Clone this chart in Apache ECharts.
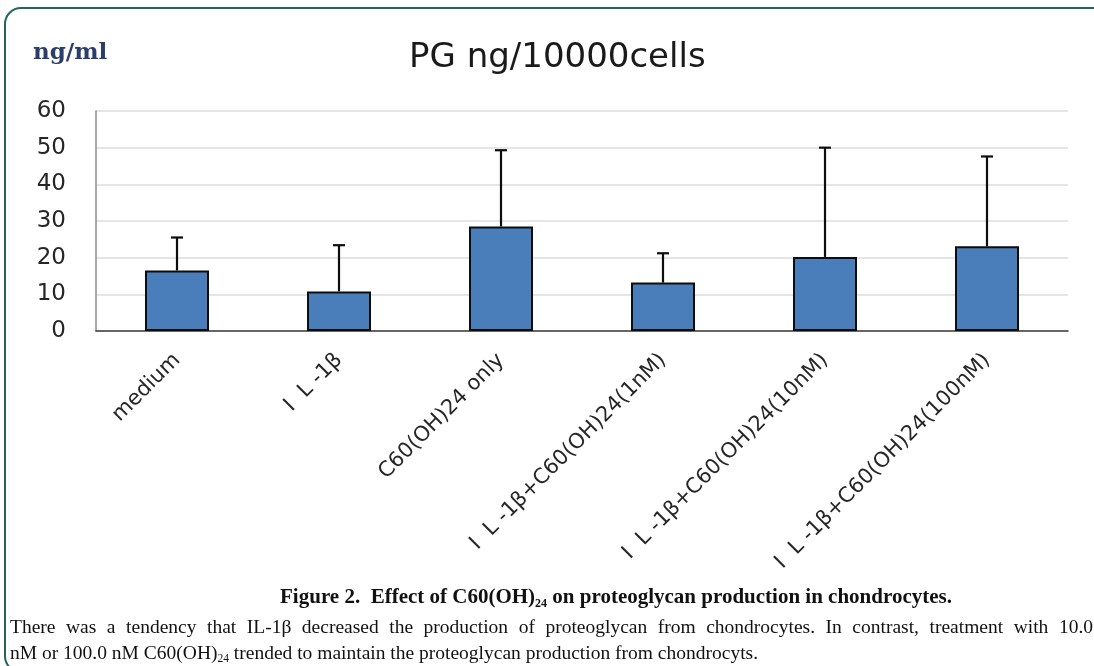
<!DOCTYPE html>
<html>
<head>
<meta charset="utf-8">
<script src="https://cdn.jsdelivr.net/npm/echarts@6/dist/echarts.min.js"></script>
<style>
html,body{margin:0;padding:0;background:#fff;}
#chart{width:1094px;height:666px;}
</style>
</head>
<body>
<div id="chart"></div>
<script>
const categories = ['medium', 'I  L -1β', 'C60(OH)24 only', 'I  L -1β+C60(OH)24(1nM)', 'I  L -1β+C60(OH)24(10nM)', 'I  L -1β+C60(OH)24(100nM)'];
const means = [16.5, 10.8, 28.5, 13.2, 20.2, 23.1];
const errors = [9.0, 12.6, 20.8, 8.0, 29.8, 24.5];
const yMin = 0, yMax = 60, yStep = 10;
const chartTitle = 'PG ng/10000cells';
const unitLabel = 'ng/ml';
const captionParts = ['Figure 2.  Effect of C60(OH)', '24', ' on proteoglycan production in chondrocytes.'];
const paraLine1 = 'There was a tendency that IL-1β decreased the production of proteoglycan from chondrocytes. In contrast, treatment with 10.0';
const paraLine2Parts = ['nM or 100.0 nM C60(OH)', '24', ' trended to maintain the proteoglycan production from chondrocyts.'];

const chart = echarts.init(document.getElementById('chart'));
const errData = categories.map((c, i) => [i, means[i], errors[i]]);

// justified first paragraph line (words spread across the line width)
const paraFont = '19.5px "Liberation Serif"';
const justifyLeft = 10, justifyRight = 1093;
const ctx = document.createElement('canvas').getContext('2d');
ctx.font = paraFont;
const words = paraLine1.split(' ');
const wordWidths = words.map(w => ctx.measureText(w).width);
const sumW = wordWidths.reduce((a, b) => a + b, 0);
const gap = (justifyRight - justifyLeft - sumW) / (words.length - 1);
const wordEls = [];
let cx = justifyLeft;
words.forEach((w, i) => {
  wordEls.push({type: 'text', x: cx, y: 628, style: {text: w, font: paraFont, fill: '#111', verticalAlign: 'middle'}});
  cx += wordWidths[i] + gap;
});

const option = {
  backgroundColor: '#ffffff',
  animation: false,
  title: {
    text: chartTitle,
    left: 404, top: 36,
    textStyle: {fontFamily: 'DejaVu Sans', fontSize: 34, fontWeight: 'normal', color: '#1a1a1a'}
  },
  grid: {left: 96, right: 26, top: 111, bottom: 335, containLabel: false},
  xAxis: {
    type: 'category',
    data: categories,
    axisLine: {lineStyle: {color: '#3d3d3d', width: 1.5}},
    axisTick: {show: false},
    axisLabel: {rotate: 45, margin: 26, fontFamily: 'DejaVu Sans', fontSize: 21, color: '#262626', interval: 0}
  },
  yAxis: {
    type: 'value', min: yMin, max: yMax, interval: yStep,
    axisLine: {show: true, lineStyle: {color: '#8c8c8c', width: 1.5}},
    axisTick: {show: false},
    splitLine: {lineStyle: {color: '#dcdcdc', width: 1.5}},
    axisLabel: {margin: 30, fontFamily: 'DejaVu Sans', fontSize: 23, color: '#262626'}
  },
  series: [
    {
      type: 'bar', data: means, barWidth: 64,
      itemStyle: {color: '#4a7ebb', borderColor: '#0d0d0d', borderWidth: 2}
    },
    {
      type: 'custom', data: errData, encode: {x: 0, y: 1}, z: 3,
      renderItem: function (params, api) {
        const i = api.value(0);
        const base = api.coord([i, api.value(1)]);
        const top = api.coord([i, api.value(1) + api.value(2)]);
        const st = {stroke: '#0d0d0d', lineWidth: 2.2};
        return {type: 'group', children: [
          {type: 'line', shape: {x1: base[0], y1: base[1], x2: top[0], y2: top[1]}, style: st},
          {type: 'line', shape: {x1: top[0] - 6, y1: top[1], x2: top[0] + 6, y2: top[1]}, style: st}
        ]};
      }
    }
  ],
  graphic: [
    {type: 'rect', silent: true, z: -10, shape: {x: 5, y: 8, width: 1130, height: 664, r: 16},
     style: {fill: 'none', stroke: '#24655d', lineWidth: 2}},
    {type: 'text', x: 33, y: 53, style: {text: unitLabel, font: 'bold 23px "DejaVu Serif"', fill: '#2b3d6b', verticalAlign: 'middle'}},
    {type: 'text', x: 616, y: 598, style: {
      text: '{b|' + captionParts[0] + '}{s|' + captionParts[1] + '}{b|' + captionParts[2] + '}',
      align: 'center', verticalAlign: 'middle',
      rich: {
        b: {fontFamily: 'Liberation Serif', fontWeight: 'bold', fontSize: 21, lineHeight: 24, verticalAlign: 'middle', fill: '#111'},
        s: {fontFamily: 'Liberation Serif', fontWeight: 'bold', fontSize: 12, lineHeight: 8, verticalAlign: 'bottom', fill: '#111'}
      }
    }}
  ].concat(wordEls).concat([
    {type: 'text', x: 10, y: 654, style: {
      text: '{r|' + paraLine2Parts[0] + '}{s|' + paraLine2Parts[1] + '}{r|' + paraLine2Parts[2] + '}',
      verticalAlign: 'middle',
      rich: {
        r: {fontFamily: 'Liberation Serif', fontSize: 19.5, lineHeight: 22, verticalAlign: 'middle', fill: '#111'},
        s: {fontFamily: 'Liberation Serif', fontSize: 11.5, lineHeight: 8, verticalAlign: 'bottom', fill: '#111'}
      }
    }}
  ])
};
chart.setOption(option);
</script>
</body>
</html>
